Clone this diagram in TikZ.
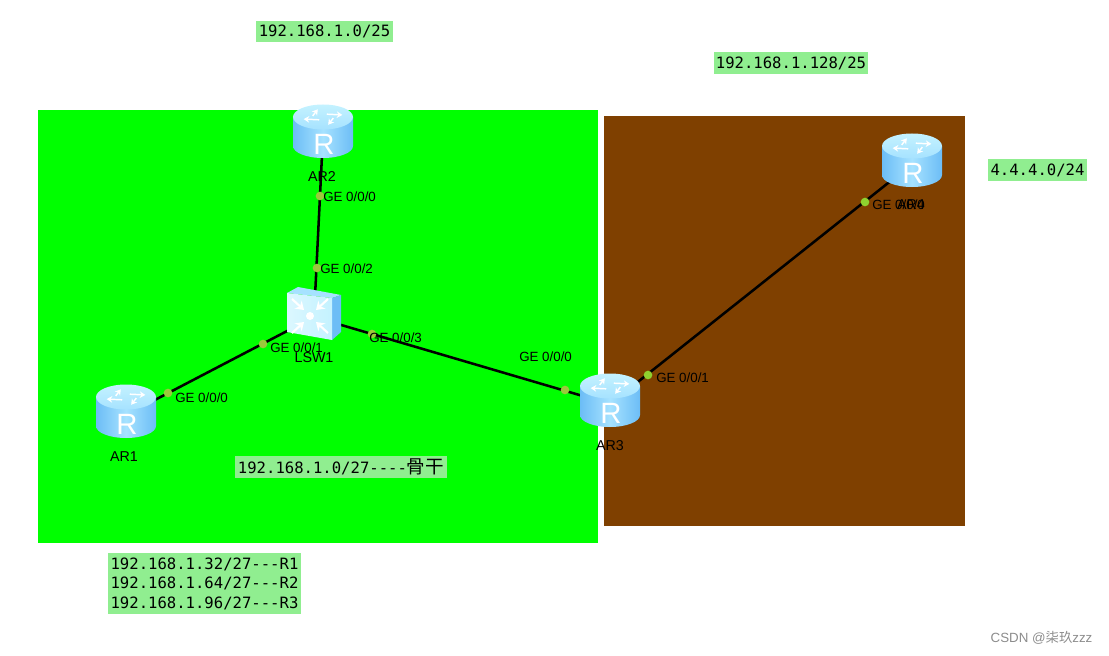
\documentclass[tikz,border=0pt]{standalone}
\usepackage{fontspec}
\setmainfont{Liberation Sans}
\setmonofont{DejaVu Sans Mono}
\newfontfamily\cjk{Noto Sans CJK SC}
\usetikzlibrary{arrows.meta, positioning, shadings}
\definecolor{netgreen}{HTML}{00FF00}
\definecolor{netbrown}{HTML}{7F4000}
\definecolor{notegreen}{HTML}{90EE90}
\definecolor{portdot}{HTML}{8FD12F}
\definecolor{portdim}{HTML}{9CC83C}
\definecolor{iconlight}{HTML}{C4F2FF}
\definecolor{iconmid}{HTML}{A6E2FF}
\definecolor{icondark}{HTML}{6CBDF6}
\tikzset{
  iconarrow/.style={draw=white, line width=1.1pt, -{Stealth[length=4.2pt, width=5pt]}},
  routericon/.pic={
    \path[left color=icondark, right color=icondark, middle color=iconmid]
      (-30,-14) -- (-30,15) arc[start angle=180, end angle=0, x radius=30, y radius=12] -- (30,-14) -- cycle;
    \path[top color=iconlight, bottom color=iconmid] (0,-14) ellipse[x radius=30, y radius=12.5];
    \foreach \ang in {20,110,200,290} {
      \draw[iconarrow, shift={(0,-14)}] ({\ang}:11 and 3) -- ({\ang+55}:20 and 8);
    }
    \node[text=white, font=\fontsize{22}{22}\selectfont, inner sep=0pt] at (1,13) {R};
  },
  switchicon/.pic={
    \path[fill=iconmid] (-27,-22) -- (-16,-28) -- (27,-20) -- (18,-17) -- cycle;
    \path[fill=icondark] (18,-17) -- (27,-20) -- (27,17) -- (18,25) -- cycle;
    \path[left color=iconlight!60!white, right color=iconlight] (-27,-22) -- (18,-17) -- (18,25) -- (-27,17) -- cycle;
    \foreach \sx/\sy in {-1/-1,1/-1,-1/1,1/1} {
      \draw[iconarrow, -{Stealth[length=6pt, width=8pt]}, line width=1.6pt] (-4+\sx*18,1+\sy*17) -- (-4+\sx*6,1+\sy*6);
    }
    \path[fill=white] (-4,1) circle[radius=4];
  },
  device/.style={inner sep=0pt, minimum size=15pt},
  devlabel/.style={font=\fontsize{10.7}{12}\selectfont, inner sep=0pt},
  portlabel/.style={font=\fontsize{10}{12}\selectfont, inner sep=0pt, anchor=west},
  portpoint/.style={circle, fill=portdot, inner sep=0pt, minimum size=6.5pt},
  link/.style={draw=black, line width=1.9pt},
  note/.style={fill=notegreen, inner sep=0pt, font=\ttfamily\fontsize{11.7}{14.6}\selectfont},
}

\begin{document}
\begin{tikzpicture}[x=0.75pt, y=-0.75pt]
\useasboundingbox (0,0) rectangle (1109,656);

% areas
\fill[netgreen] (38,110) rectangle (598,543);
\fill[netbrown] (604,116) rectangle (965,526);

% devices
\node[device] (ar1) at (126,415) {};
\node[device] (ar2) at (323,135) {};
\node[device] (ar3) at (610,404) {};
\node[device] (ar4) at (912,164) {};
\node[device] (lsw1) at (314,317) {};

\draw[link] (ar2) -- (lsw1);
\draw[link] (ar1) -- (lsw1);
\draw[link] (lsw1) -- (ar3);
\draw[link] (ar3) -- (ar4);

\pic[yshift=3pt] at (ar1) {routericon};
\pic[yshift=3pt] at (ar2) {routericon};
\pic[yshift=3pt] at (ar3) {routericon};
\pic[yshift=3pt] at (ar4) {routericon};
\pic[yshift=1.5pt] at (lsw1) {switchicon};

% device names
\node[devlabel] (ar1name) at (124,457) {AR1};
\node[devlabel] (ar2name) at (322,177) {AR2};
\node[devlabel] (ar3name) at (610,446) {AR3};
\node[devlabel] (ar4name) at (911,205) {AR4};
\node[devlabel] (lsw1name) at (314,358) {LSW1};

% ports
\node[portpoint, fill=portdim] (p1) at (320,196) {};
\node[portpoint, fill=portdim] (p2) at (317,268) {};
\node[portpoint, fill=portdim] (p3) at (263,344) {};
\node[portpoint, fill=portdim] (p4) at (168,393) {};
\node[portpoint, fill=portdim] (p5) at (372,334) {};
\node[portpoint, fill=portdim] (p6) at (565,390) {};
\node[portpoint] (p7) at (648,375) {};
\node[portpoint] (p8) at (865,202) {};

\node[portlabel] at (323,197) {GE 0/0/0};
\node[portlabel] at (320,269) {GE 0/0/2};
\node[portlabel] at (270,348) {GE 0/0/1};
\node[portlabel] at (175,398) {GE 0/0/0};
\node[portlabel] at (369,338) {GE 0/0/3};
\node[portlabel] at (519,357) {GE 0/0/0};
\node[portlabel] at (656,378) {GE 0/0/1};
\node[portlabel] at (872,205) {GE 0/0/0};

% address notes
\node[note, minimum width=103pt, minimum height=16pt] (n1) at (324.5,31.5) {192.168.1.0/25};
\node[note, minimum width=115.5pt, minimum height=16.5pt] (n2) at (791,63) {192.168.1.128/25};
\node[note, minimum width=74pt, minimum height=16.5pt] (n3) at (1037.5,170) {4.4.4.0/24};
\node[note, minimum width=159pt, minimum height=16.5pt] (n4) at (341,467) {192.168.1.0/27----{\cjk\fontsize{13.9}{14}\selectfont 骨干}};
\node[note, align=left, minimum width=145pt, minimum height=46pt] (n5) at (204.5,583.5) {192.168.1.32/27---R1\\192.168.1.64/27---R2\\192.168.1.96/27---R3};

\node[text=black!45, inner sep=0pt, font=\fontsize{10}{12}\selectfont] (mark) at (1041.5,638) {CSDN @{\cjk 柒玖}zzz};

\end{tikzpicture}
\end{document}
